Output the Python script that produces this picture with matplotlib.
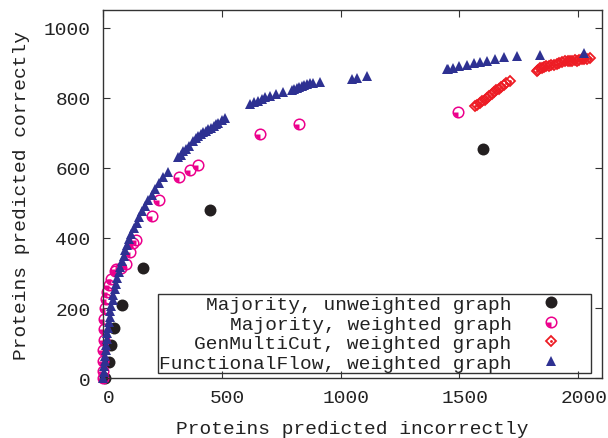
import matplotlib
matplotlib.use('Agg')
import matplotlib.pyplot as plt
from matplotlib.path import Path
from matplotlib.lines import Line2D
from matplotlib.patches import Rectangle
from matplotlib.transforms import ScaledTranslation
import numpy as np

plt.rcParams['font.family'] = ['Liberation Mono', 'DejaVu Sans Mono']

# ---------------- data ----------------
labels = ["Majority, unweighted graph",
          "Majority, weighted graph",
          "GenMultiCut, weighted graph",
          "FunctionalFlow, weighted graph"]

maj_unw_x = [8, 25, 35, 45, 81, 167, 450, 1599]
maj_unw_y = [0, 46, 96, 142, 210, 314, 480, 654]

maj_w_x = [0, 0, 1, 2, 3, 4, 6, 8, 12, 18, 25, 35, 50, 56, 75, 98, 112, 126, 140,
           205, 236, 320, 366, 399, 661, 826, 1493]
maj_w_y = [0, 20, 50, 80, 110, 140, 170, 200, 225, 245, 265, 283, 306, 311, 315, 325,
           359, 385, 395, 463, 507, 575, 594, 609, 696, 725, 760]

gmc_x = [1566, 1576, 1585, 1596, 1606, 1617, 1626, 1636, 1647, 1656, 1666, 1677, 1686, 1698, 1713,
         1825, 1832, 1840, 1848, 1856, 1866, 1876, 1886, 1897, 1909, 1920, 1932, 1944,
         1955, 1965, 1975, 1985, 1995, 2005, 2015, 2025, 2035, 2050]
gmc_y = [775, 779, 785, 790, 794, 800, 806, 810, 815, 821, 825, 830, 836, 841, 848,
         876, 880, 884, 886, 888, 890, 891, 893, 894, 895, 899, 903, 904,
         905, 905, 906, 907, 906, 908, 909, 910, 911, 912]

ff_x = [2, 4, 6, 7, 8, 11, 13, 15, 18, 21, 25, 28, 31, 35, 40, 44, 49, 54, 60, 66, 73,
        80, 87, 94, 101, 108, 118, 131, 143, 153, 164, 175, 190, 205, 218, 236, 254, 275,
        317, 327, 338, 350, 363, 380, 390, 401, 412, 422, 433, 443, 455, 467, 476, 485, 499, 513,
        619, 636, 654, 668, 682, 703, 730, 759,
        794, 805, 815, 826, 836, 846, 857, 870, 883, 913,
        1048, 1070, 1110,
        1447, 1453, 1474, 1500, 1533, 1563, 1587, 1617, 1650, 1688, 1744, 1839, 2024]
ff_y = [0, 17, 35, 50, 64, 80, 96, 112, 128, 144, 160, 176, 192, 207, 223, 238, 254, 270,
        286, 302, 318, 334, 349, 365, 381, 397, 412, 428, 444, 460, 476, 492, 508, 524, 539,
        556, 573, 587,
        630, 638, 648, 655, 663, 677, 684, 691, 696, 701, 706, 710, 715, 720, 725, 729, 735, 741,
        782, 787, 791, 797, 801, 805, 811, 815,
        821, 824, 827, 831, 834, 836, 838, 841, 843, 845,
        853, 856, 862,
        883, 881, 886, 891, 893, 900, 902, 905, 910, 915, 919, 922, 927]

x_ticks = [0, 500, 1000, 1500, 2000]
y_ticks = [0, 200, 400, 600, 800, 1000]

# ---------------- style ----------------
c_black = '#231f20'
c_mag = '#ec008c'
c_red = '#ed1c24'
c_blue = '#2e3192'
c_axis = '#333333'

# quarter-filled wedge (lower-left) marker shape
ang = np.linspace(np.pi, 1.5 * np.pi, 20)
wedge_verts = [(0, 0)] + [(np.cos(a), np.sin(a)) for a in ang] + [(0, 0)]
wedge = Path(wedge_verts, closed=True)

fig = plt.figure(figsize=(6.08, 4.39), dpi=100)
ax = fig.add_axes([103 / 608, 1 - 379.3 / 439, 499 / 608, 368.3 / 439])

ax.plot(maj_unw_x, maj_unw_y, ls='none', marker='o', ms=8.6, mfc=c_black, mec=c_black,
        mew=0, clip_on=False, zorder=2)
ax.plot(maj_w_x, maj_w_y, ls='none', marker='o', ms=7.6, mfc='none', mec=c_mag,
        mew=1.1, clip_on=False, zorder=2)
ax.plot(maj_w_x, maj_w_y, ls='none', marker=wedge, ms=7.0, mfc=c_mag, mec=c_mag,
        mew=0, clip_on=False, zorder=2)
ax.plot(gmc_x, gmc_y, ls='none', marker='D', ms=5.2, mfc='none', mec=c_red,
        mew=1.3, clip_on=False, zorder=3)
ax.plot(gmc_x, gmc_y, ls='none', marker='.', ms=2.0, mfc=c_red, mec=c_red,
        clip_on=False, zorder=3)
ax.plot(ff_x, ff_y, ls='none', marker='^', ms=7.6, mfc=c_blue, mec=c_blue,
        mew=0, clip_on=False, zorder=4)

ax.set_xlim(0, 2100)
ax.set_ylim(0, 1050)
ax.set_xticks(x_ticks)
ax.set_yticks(y_ticks)
ax.set_xticklabels([str(v) for v in x_ticks])
ax.set_yticklabels([str(v) for v in y_ticks])
ax.tick_params(direction='in', top=True, right=True, length=5, width=0.8,
               color=c_axis, labelsize=14, labelcolor='#222222')
ax.tick_params(axis='x', pad=8)
ax.tick_params(axis='y', pad=9)
for lab in ax.get_xticklabels():
    lab.set_transform(lab.get_transform() + ScaledTranslation(5.5 / 100, 0, fig.dpi_scale_trans))
for s in ax.spines.values():
    s.set_color(c_axis)
    s.set_linewidth(1.0)

ax.set_xlabel("Proteins predicted incorrectly", fontsize=14, color='#222222', labelpad=10)
ax.set_ylabel("Proteins predicted correctly", fontsize=14, color='#222222', labelpad=10)

# legend
h1 = Line2D([], [], ls='none', marker='o', ms=8.6, mfc=c_black, mec=c_black, mew=0)
h2a = Line2D([], [], ls='none', marker='o', ms=7.6, mfc='none', mec=c_mag, mew=1.1)
h2b = Line2D([], [], ls='none', marker=wedge, ms=7.0, mfc=c_mag, mec=c_mag, mew=0)
h3a = Line2D([], [], ls='none', marker='D', ms=5.2, mfc='none', mec=c_red, mew=1.3)
h3b = Line2D([], [], ls='none', marker='.', ms=2.0, mfc=c_red, mec=c_red)
h4 = Line2D([], [], ls='none', marker='^', ms=7.6, mfc=c_blue, mec=c_blue, mew=0)
leg = ax.legend([h1, (h2a, h2b), (h3a, h3b), h4], labels, frameon=False, markerfirst=False,
                handlelength=1.0, handletextpad=1.5, labelspacing=0.1, borderpad=0,
                loc='center', bbox_to_anchor=(359.7 / 608, 1 - 334.5 / 439),
                bbox_transform=fig.transFigure, fontsize=14)
for t in leg.get_texts():
    t.set_color('#222222')
rect = Rectangle((158 / 608, 1 - 374 / 439), 433 / 608, 79 / 439, transform=fig.transFigure,
                 fill=False, lw=1.0, ec=c_axis, clip_on=False, zorder=6)
ax.add_patch(rect)

fig.savefig('out.png', dpi=100)
